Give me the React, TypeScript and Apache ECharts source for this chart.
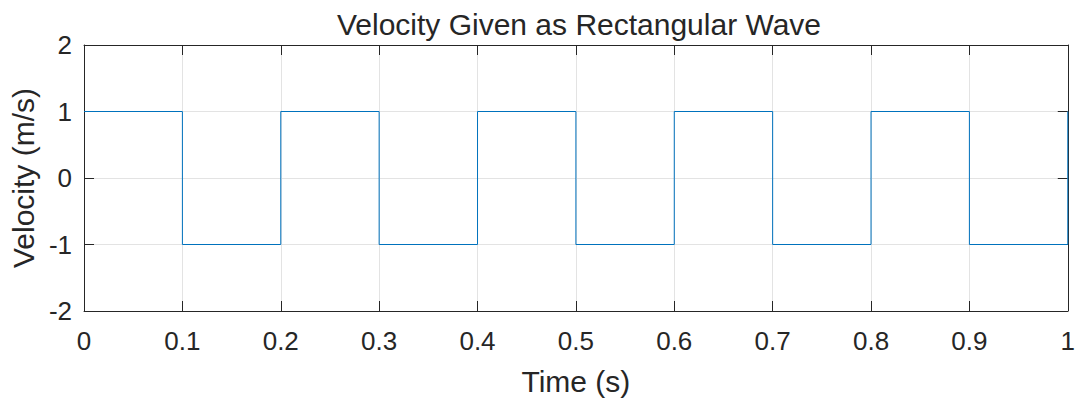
import React, { useEffect, useRef } from "react";
import * as echarts from "echarts";

const timeValues = [0, 0.1, 0.1, 0.2, 0.2, 0.3, 0.3, 0.4, 0.4, 0.5, 0.5, 0.6, 0.6, 0.7, 0.7, 0.8, 0.8, 0.9, 0.9, 1, 1];
const velocityValues = [1, 1, -1, -1, 1, 1, -1, -1, 1, 1, -1, -1, 1, 1, -1, -1, 1, 1, -1, -1, 1];
const xTickLabels = ["0", "0.1", "0.2", "0.3", "0.4", "0.5", "0.6", "0.7", "0.8", "0.9", "1"];
const yTickLabels = ["-2", "-1", "0", "1", "2"];

const FONT = "'Liberation Sans', Arial, Helvetica, sans-serif";
const TXT = "#262626";

export default function App() {
  const ref = useRef<HTMLDivElement>(null);
  useEffect(() => {
    const chart = echarts.init(ref.current!, null, { renderer: "svg" });
    const axisLine = { show: true, onZero: false, lineStyle: { color: TXT, width: 1 } };
    const tick = { show: true, inside: true, length: 10, lineStyle: { color: TXT } };
    chart.setOption({
      animation: false,
      title: {
        text: "Velocity Given as Rectangular Wave",
        left: 574,
        textAlign: "center",
        top: 4,
        textStyle: { fontFamily: FONT, fontSize: 30, fontWeight: "normal", color: TXT },
      },
      grid: { left: 83, right: 8, top: 45, bottom: 90 },
      xAxis: [
        {
          type: "value",
          min: 0,
          max: 1,
          interval: 0.1,
          axisLine,
          axisTick: tick,
          axisLabel: {
            fontFamily: FONT,
            fontSize: 26,
            color: TXT,
            margin: 17,
            formatter: (v: number) => xTickLabels[Math.round(v * 10)],
          },
          splitLine: { show: true, lineStyle: { color: "#e3e3e3" } },
          name: "Time (s)",
          nameLocation: "middle",
          nameGap: 55,
          nameTextStyle: { fontFamily: FONT, fontSize: 30, color: TXT },
        },
        {
          type: "value",
          position: "top",
          min: 0,
          max: 1,
          interval: 0.1,
          axisLine,
          axisTick: tick,
          axisLabel: { show: false },
          splitLine: { show: false },
        },
      ],
      yAxis: [
        {
          type: "value",
          min: -2,
          max: 2,
          interval: 1,
          axisLine,
          axisTick: tick,
          axisLabel: {
            fontFamily: FONT,
            fontSize: 26,
            color: TXT,
            margin: 12,
            formatter: (v: number) => yTickLabels[Math.round(v) + 2],
          },
          splitLine: { show: true, lineStyle: { color: "#e3e3e3" } },
          name: "Velocity (m/s)",
          nameLocation: "middle",
          nameGap: 41,
          nameTextStyle: { fontFamily: FONT, fontSize: 30, color: TXT },
        },
        {
          type: "value",
          position: "right",
          min: -2,
          max: 2,
          interval: 1,
          axisLine,
          axisTick: tick,
          axisLabel: { show: false },
          splitLine: { show: false },
        },
      ],
      series: [
        {
          type: "line",
          data: timeValues.map((t, i) => [t, velocityValues[i]]),
          showSymbol: false,
          symbol: "none",
          lineStyle: { color: "#0072BD", width: 1 },
        },
      ],
    });
    return () => chart.dispose();
  }, []);
  return (
    <div
      ref={ref}
      style={{ position: "absolute", left: 0, top: 0, width: 1078, height: 401 }}
    />
  );
}
